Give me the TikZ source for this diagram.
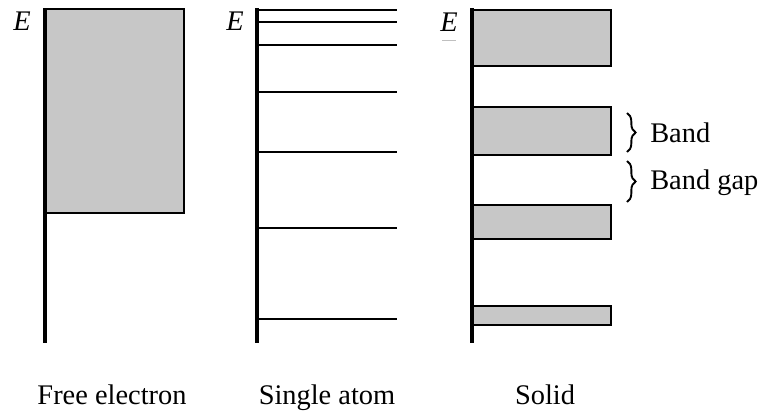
\documentclass[tikz,border=0pt]{standalone}
\usepackage{fontspec}
\setmainfont{Liberation Serif}
\usetikzlibrary{decorations.pathreplacing}
\begin{document}
\begin{tikzpicture}[x=0.75pt,y=-0.75pt,
  axis/.style={line width=2.5pt},
  level/.style={line width=1.7pt},
  band/.style={draw=black,fill=black!22,line width=1.7pt},
  lbl/.style={font=\fontsize{21.3}{25}\selectfont,inner sep=0pt},
  elbl/.style={font=\fontsize{21.3}{25}\selectfont\itshape,inner sep=0pt},
  brc/.style={decorate,decoration={brace,amplitude=6.5pt},line width=1.4pt}]
\useasboundingbox (0,0) rectangle (761,414);
% Free electron
\coordinate (a1t) at (45,8);
\coordinate (a1b) at (45,343);
\draw[band] (45,9) rectangle (184,213);
\draw[axis] (a1t) -- (a1b);
\node[elbl] (e1) at (22,21) {E};
% Single atom
\coordinate (a2t) at (257,8);
\coordinate (a2b) at (257,343);
\foreach \yy/\nm in {10/l1,22/l2,45/l3,92/l4,152/l5,228/l6,319/l7}{
  \coordinate (\nm s) at (257,\yy);
  \coordinate (\nm e) at (397,\yy);
  \draw[level] (\nm s) -- (\nm e);
}
\draw[axis] (a2t) -- (a2b);
\node[elbl] (e2) at (235,21) {E};
% Solid
\coordinate (a3t) at (472,8);
\coordinate (a3b) at (472,343);
\draw[band] (472,10) rectangle (611,66);
\draw[band] (472,107) rectangle (611,155);
\draw[band] (472,205) rectangle (611,239);
\draw[band] (472,306) rectangle (611,325);
\draw[axis] (a3t) -- (a3b);
\node[elbl] (e3) at (449,22) {E};
\draw[black!25,line width=0.6pt] (442,40) -- (456,40);
% Braces
\coordinate (b1t) at (627,113);
\coordinate (b1b) at (627,152);
\coordinate (b2t) at (627,161);
\coordinate (b2b) at (627,202);
\draw[brc] (b1t) -- (b1b);
\draw[brc] (b2t) -- (b2b);
\node[lbl,anchor=west] (band) at (650,133) {Band};
\node[lbl,anchor=west] (gap) at (650,183) {Band gap};
% Labels
\node[lbl,anchor=base] (t1) at (112,404) {Free electron};
\node[lbl,anchor=base] (t2) at (327,404) {Single atom};
\node[lbl,anchor=base] (t3) at (545,404) {Solid};
\end{tikzpicture}
\end{document}
